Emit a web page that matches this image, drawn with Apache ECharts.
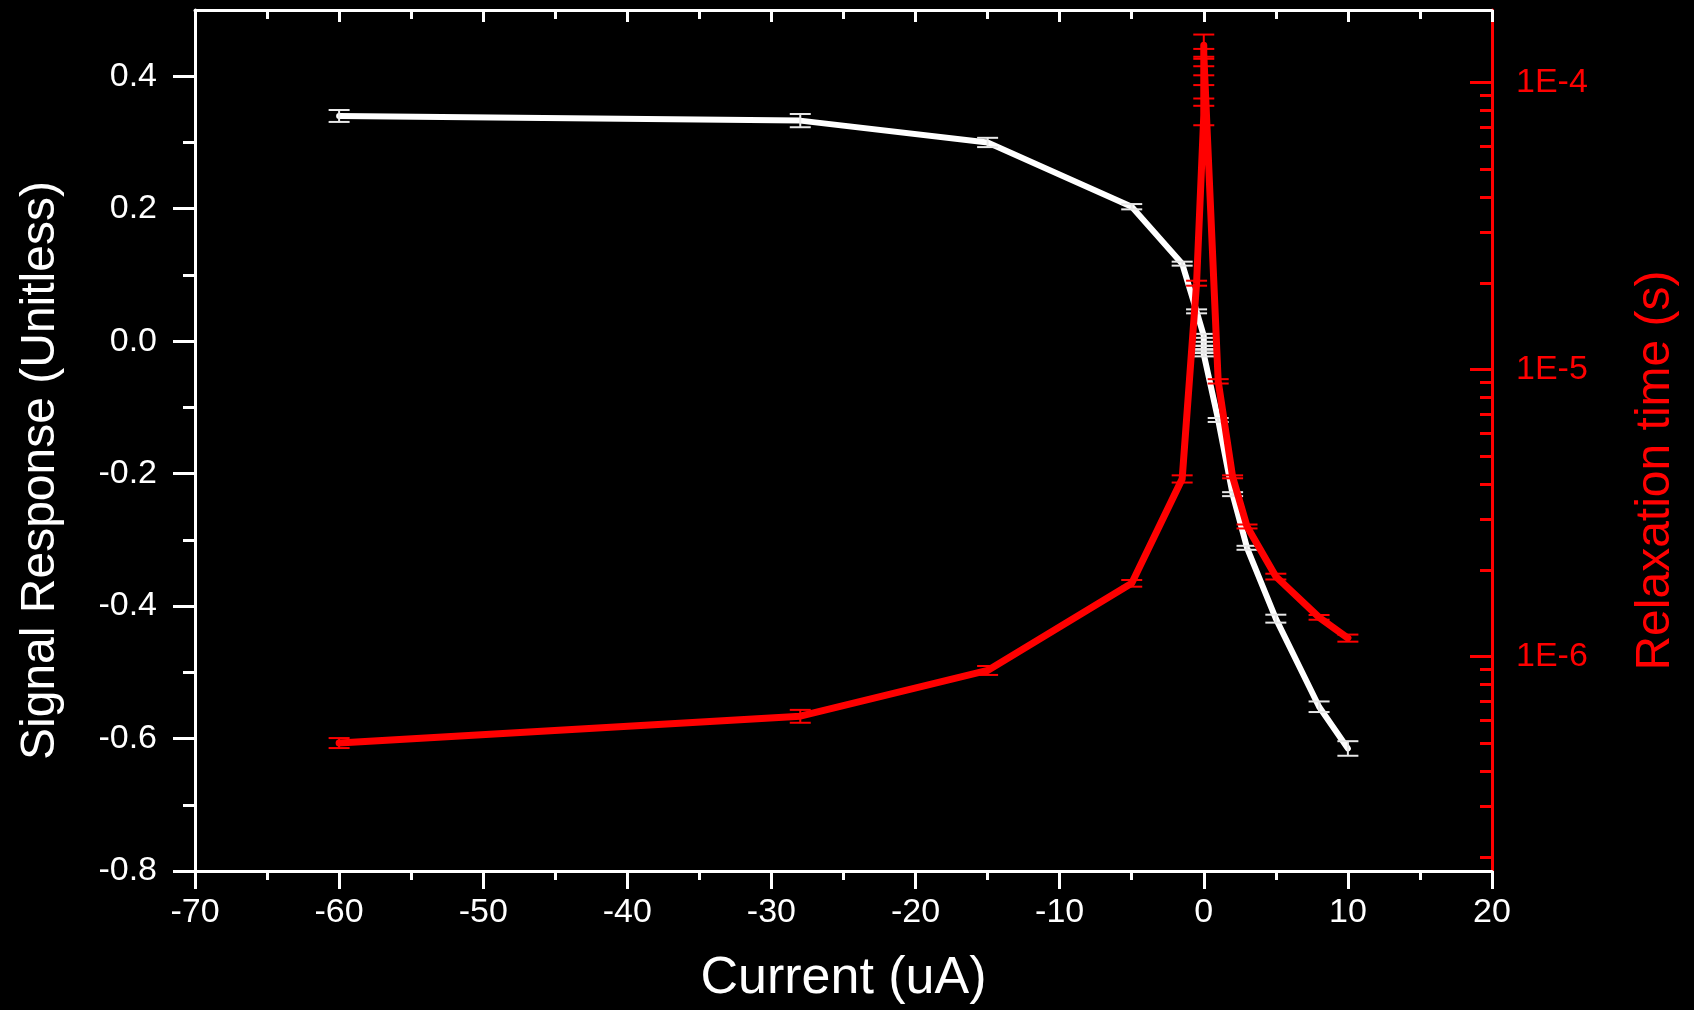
<!DOCTYPE html>
<html>
<head>
<meta charset="utf-8">
<script src="https://cdn.jsdelivr.net/npm/echarts@6/dist/echarts.min.js"></script>
<style>
    html, body { margin: 0; background: #000; }
    #grafica { width: 1694px; height: 1010px; }
</style>
</head>
<body>
<div id="grafica"></div>
<script>
// Corriente (uA) de cada medida
const corriente = [-60, -28, -15, -5, -1.5, -0.5, 0, 0, 0, 0, 0, 1, 2, 3, 5, 8, 10];
// Respuesta de la senal (sin unidades) y su error
const senal    = [0.340, 0.333, 0.300, 0.203, 0.117, 0.045, 0.008, -0.004, -0.010, -0.015, -0.020, -0.119, -0.231, -0.312, -0.419, -0.552, -0.615];
const senalErr = [0.009, 0.010, 0.007, 0.004, 0.003, 0.003, 0.003, 0.003, 0.003, 0.003, 0.003, 0.003, 0.003, 0.003, 0.006, 0.008, 0.011];
// Tiempo de relajacion (s) y su error
const tiempo    = [5.0e-7, 6.2e-7, 8.95e-7, 1.8e-6, 4.16e-6, 2.0e-5, 7.7e-5, 9.3e-5, 1.35e-4, 1.1e-4, 1.26e-4, 9.1e-6, 4.23e-6, 2.84e-6, 1.9e-6, 1.37e-6, 1.16e-6];
const tiempoErr = [2.0e-8, 3.2e-8, 3.2e-8, 4.8e-8, 1.2e-7, 4.0e-7, 6.0e-6, 5.0e-6, 1.2e-5, 4.0e-6, 5.0e-6, 1.6e-7, 5.0e-8, 4.5e-8, 4.4e-8, 2.6e-8, 3.3e-8];

// Marcas de los ejes
const ticksIzq = [-0.8, -0.6, -0.4, -0.2, 0, 0.2, 0.4];
const ticksIzqMenor = [-0.7, -0.5, -0.3, -0.1, 0.1, 0.3];
const ticksDer = [1e-6, 1e-5, 1e-4];
const ticksDerMenor = [2e-7, 3e-7, 4e-7, 5e-7, 6e-7, 7e-7, 8e-7, 9e-7,
                       2e-6, 3e-6, 4e-6, 5e-6, 6e-6, 7e-6, 8e-6, 9e-6,
                       2e-5, 3e-5, 4e-5, 5e-5, 6e-5, 7e-5, 8e-5, 9e-5];

const BLANCO = '#ffffff';
const ROJO = '#ff0000';
const FUENTE = "'Liberation Sans', Arial, sans-serif";

// Barras de error con tapas
function barrasError(color) {
    return function (params, api) {
        const x = api.value(0), y = api.value(1), e = api.value(2);
        const arriba = api.coord([x, y + e]);
        const abajo = api.coord([x, y - e]);
        const w = 10.5;
        const estilo = { stroke: color, lineWidth: 2 };
        return {
            type: 'group',
            children: [
                { type: 'line', shape: { x1: arriba[0], y1: arriba[1], x2: abajo[0], y2: abajo[1] }, style: estilo },
                { type: 'line', shape: { x1: arriba[0] - w, y1: arriba[1], x2: arriba[0] + w, y2: arriba[1] }, style: estilo },
                { type: 'line', shape: { x1: abajo[0] - w, y1: abajo[1], x2: abajo[0] + w, y2: abajo[1] }, style: estilo }
            ]
        };
    };
}

const chart = echarts.init(document.getElementById('grafica'));

const option = {
    backgroundColor: '#000',
    animation: false,
    grid: { left: 195, right: 202, top: 10, bottom: 138 },
    xAxis: [{
        type: 'value', position: 'bottom', min: -70, max: 20, interval: 10,
        name: 'Current (uA)', nameLocation: 'middle', nameGap: 82,
        nameTextStyle: { color: BLANCO, fontSize: 52, fontFamily: FUENTE },
        axisLine: { onZero: false, lineStyle: { color: BLANCO, width: 3 } },
        axisTick: { inside: false, length: 18, lineStyle: { color: BLANCO, width: 3 } },
        minorTick: { show: true, splitNumber: 2, length: 9, lineStyle: { color: BLANCO, width: 3 } },
        axisLabel: { color: BLANCO, fontSize: 34, fontFamily: FUENTE, margin: 25 },
        splitLine: { show: false }
    }, {
        type: 'value', position: 'top', min: -70, max: 20, interval: 10,
        axisLine: { onZero: false, lineStyle: { color: BLANCO, width: 3 } },
        axisTick: { inside: true, length: 12, lineStyle: { color: BLANCO, width: 3 } },
        minorTick: { show: true, splitNumber: 2, length: 9, lineStyle: { color: BLANCO, width: 3 } },
        axisLabel: { show: false },
        splitLine: { show: false }
    }],
    yAxis: [{
        type: 'value', position: 'left', min: -0.8, max: 0.5,
        name: 'Signal Response (Unitless)', nameLocation: 'middle', nameRotate: 90, nameGap: 130,
        nameTextStyle: { color: BLANCO, fontSize: 48, fontFamily: FUENTE, padding: [0, 60, 0, 0] },
        axisLine: { onZero: false, lineStyle: { color: BLANCO, width: 3 } },
        axisTick: { inside: false, length: 22, customValues: ticksIzq, lineStyle: { color: BLANCO, width: 3 } },
        axisLabel: { customValues: ticksIzq, color: BLANCO, fontSize: 34, fontFamily: FUENTE, margin: 38,
            formatter: v => v.toFixed(1) },
        splitLine: { show: false }
    }, {
        type: 'log', position: 'right', min: 1.79e-7, max: 1.79e-4,
        name: 'Relaxation time (s)', nameLocation: 'middle', nameRotate: 90, nameGap: 140,
        nameTextStyle: { color: ROJO, fontSize: 48, fontFamily: FUENTE, padding: [0, 60, 0, 0] },
        axisLine: { onZero: false, lineStyle: { color: ROJO, width: 3 } },
        axisTick: { inside: true, length: 22, customValues: ticksDer, lineStyle: { color: ROJO, width: 3 } },
        axisLabel: { customValues: ticksDer, color: ROJO, fontSize: 34, fontFamily: FUENTE, margin: 24,
            formatter: v => '1E' + Math.round(Math.log10(v)) },
        splitLine: { show: false }
    }, {
        // marcas menores del eje izquierdo
        type: 'value', position: 'left', min: -0.8, max: 0.5,
        axisLine: { show: false, onZero: false },
        axisTick: { inside: false, length: 12, customValues: ticksIzqMenor, lineStyle: { color: BLANCO, width: 3 } },
        axisLabel: { show: false },
        splitLine: { show: false }
    }, {
        // marcas menores del eje derecho (log)
        type: 'log', position: 'right', min: 1.79e-7, max: 1.79e-4,
        axisLine: { show: false, onZero: false },
        axisTick: { inside: true, length: 12, customValues: ticksDerMenor, lineStyle: { color: ROJO, width: 3 } },
        axisLabel: { show: false },
        splitLine: { show: false }
    }],
    series: [{
        type: 'line', xAxisIndex: 0, yAxisIndex: 0,
        data: corriente.map((x, i) => [x, senal[i]]),
        showSymbol: false, z: 2,
        lineStyle: { color: BLANCO, width: 6, cap: 'round', join: 'round' }
    }, {
        type: 'custom', xAxisIndex: 0, yAxisIndex: 0, z: 3,
        data: corriente.map((x, i) => [x, senal[i], senalErr[i]]),
        renderItem: barrasError('#e8e8e8')
    }, {
        type: 'line', xAxisIndex: 0, yAxisIndex: 1,
        data: corriente.map((x, i) => [x, tiempo[i]]),
        showSymbol: false, z: 4,
        lineStyle: { color: ROJO, width: 7, cap: 'round', join: 'round' }
    }, {
        type: 'custom', xAxisIndex: 0, yAxisIndex: 1, z: 5,
        data: corriente.map((x, i) => [x, tiempo[i], tiempoErr[i]]),
        renderItem: barrasError(ROJO)
    }]
};

chart.setOption(option);
</script>
</body>
</html>
